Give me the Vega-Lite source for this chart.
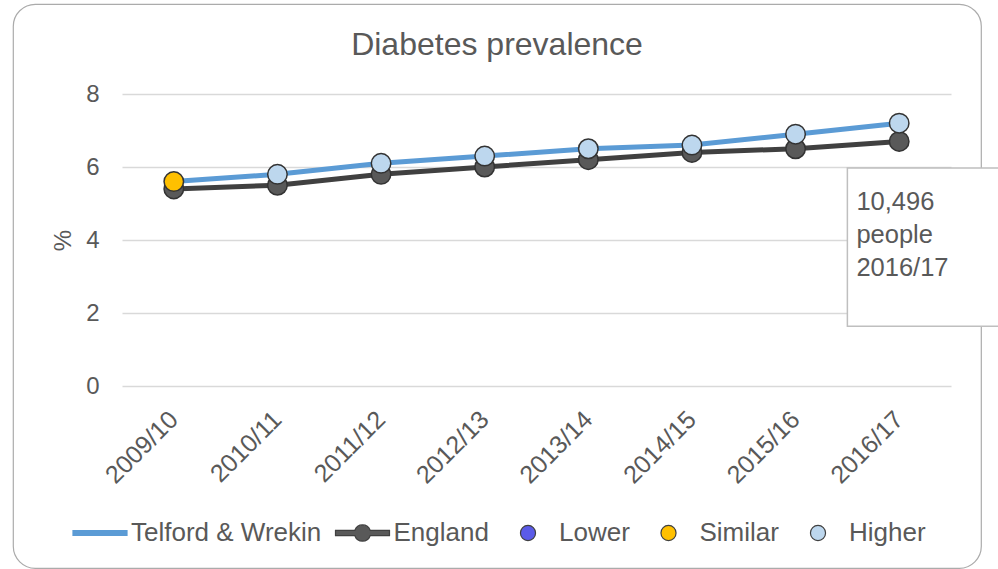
{
  "$schema": "https://vega.github.io/schema/vega-lite/v6.json",
  "width": 968,
  "height": 564,
  "autosize": {"type": "none"},
  "padding": {"left": 13, "top": 4, "right": 17, "bottom": 1},
  "background": "white",
  "config": {
    "font": "Liberation Sans",
    "view": {"stroke": "#ABABAB", "strokeWidth": 1.2, "cornerRadius": 22, "fill": "white"},
    "legend": {
      "orient": "none",
      "legendX": 59,
      "legendY": 501,
      "direction": "horizontal",
      "columns": 5,
      "title": null,
      "padding": 0,
      "labelFontSize": 26,
      "labelColor": "#595959",
      "labelOffset": 3,
      "labelLimit": 0,
      "columnPadding": 10.5,
      "symbolSize": 2916,
      "symbolOpacity": 1,
      "symbolStrokeWidth": 1.2
    }
  },
  "title": {
    "text": "Diabetes prevalence",
    "fontSize": 32,
    "fontWeight": "normal",
    "color": "#595959",
    "anchor": "middle",
    "frame": "group",
    "baseline": "middle",
    "offset": -73
  },
  "datasets": {
    "prev": [
      {"year": "2009/10", "series": "Telford & Wrekin", "value": 5.6, "cat": "Similar"},
      {"year": "2010/11", "series": "Telford & Wrekin", "value": 5.8, "cat": "Higher"},
      {"year": "2011/12", "series": "Telford & Wrekin", "value": 6.1, "cat": "Higher"},
      {"year": "2012/13", "series": "Telford & Wrekin", "value": 6.3, "cat": "Higher"},
      {"year": "2013/14", "series": "Telford & Wrekin", "value": 6.5, "cat": "Higher"},
      {"year": "2014/15", "series": "Telford & Wrekin", "value": 6.6, "cat": "Higher"},
      {"year": "2015/16", "series": "Telford & Wrekin", "value": 6.9, "cat": "Higher"},
      {"year": "2016/17", "series": "Telford & Wrekin", "value": 7.2, "cat": "Higher"},
      {"year": "2009/10", "series": "England", "value": 5.4, "cat": "England"},
      {"year": "2010/11", "series": "England", "value": 5.5, "cat": "England"},
      {"year": "2011/12", "series": "England", "value": 5.8, "cat": "England"},
      {"year": "2012/13", "series": "England", "value": 6.0, "cat": "England"},
      {"year": "2013/14", "series": "England", "value": 6.2, "cat": "England"},
      {"year": "2014/15", "series": "England", "value": 6.4, "cat": "England"},
      {"year": "2015/16", "series": "England", "value": 6.5, "cat": "England"},
      {"year": "2016/17", "series": "England", "value": 6.7, "cat": "England"}
    ],
    "note": [
      {"year": "2016/17", "top": 5.97, "bottom": 1.64, "label": ["10,496", "people", "2016/17"]}
    ]
  },
  "layer": [
    {
      "data": {"name": "note"},
      "mark": {"type": "rect", "fill": "white", "stroke": "#BFBFBF", "strokeWidth": 1.5, "x2Offset": 60},
      "encoding": {
        "x": {
          "field": "year", "type": "nominal", "bandPosition": 0,
          "scale": {
            "type": "band",
            "domain": ["2009/10", "2010/11", "2011/12", "2012/13", "2013/14", "2014/15", "2015/16", "2016/17"],
            "range": [109, 938],
            "paddingInner": 0,
            "paddingOuter": 0
          },
          "axis": {
            "orient": "bottom",
            "offset": -182,
            "title": null,
            "domain": false,
            "ticks": false,
            "tickSize": 0,
            "grid": false,
            "labelAngle": -45,
            "labelAlign": "right",
            "labelBaseline": "middle",
            "labelPadding": 29,
            "labelFontSize": 25,
            "labelColor": "#595959",
            "labelOverlap": false,
            "labelFlush": false,
            "labelBound": false
          }
        },
        "x2": {"field": "year", "bandPosition": 1},
        "y": {
          "field": "top", "type": "quantitative",
          "scale": {"domain": [0, 8], "range": [382, 90], "nice": false, "zero": false},
          "axis": {
            "orient": "left",
            "offset": -109,
            "title": "%",
            "titleFontSize": 24,
            "titleFontWeight": "normal",
            "titleColor": "#595959",
            "titlePadding": 10,
            "values": [0, 2, 4, 6, 8],
            "format": "d",
            "domain": false,
            "ticks": false,
            "tickSize": 0,
            "grid": true,
            "gridColor": "#D9D9D9",
            "gridWidth": 1.5,
            "labelPadding": 23,
            "labelFontSize": 24,
            "labelColor": "#595959"
          }
        },
        "y2": {"field": "bottom"}
      }
    },
    {
      "data": {"name": "note"},
      "mark": {"type": "text", "align": "left", "baseline": "top", "dx": 9, "dy": 22, "fontSize": 25.5, "lineHeight": 33, "color": "#595959"},
      "encoding": {
        "x": {"field": "year", "type": "nominal", "bandPosition": 0},
        "y": {"field": "top", "type": "quantitative"},
        "text": {"field": "label"}
      }
    },
    {
      "data": {"values": []},
      "mark": {"type": "point", "filled": true},
      "encoding": {
        "x": {"field": "year", "type": "nominal"},
        "y": {"field": "value", "type": "quantitative"},
        "fill": {
          "field": "cat", "type": "nominal",
          "scale": {
            "domain": ["Telford & Wrekin", "England", "Lower", "Similar", "Higher"],
            "range": ["#5B9BD5", "#595959", "#5B5BE8", "#FFC000", "#BDD7EE"]
          }
        },
        "shape": {
          "field": "cat", "type": "nominal",
          "scale": {
            "domain": ["Telford & Wrekin", "England", "Lower", "Similar", "Higher"],
            "range": [
              "M-1,-0.09L1,-0.09L1,0.09L-1,0.09Z",
              "M-1,-0.1L-0.283,-0.1A0.3,0.3,0,0,1,0.283,-0.1L1,-0.1L1,0.1L0.283,0.1A0.3,0.3,0,0,1,-0.283,0.1L-1,0.1Z",
              "M-0.28,0A0.28,0.28,0,1,1,0.28,0A0.28,0.28,0,1,1,-0.28,0Z",
              "M-0.28,0A0.28,0.28,0,1,1,0.28,0A0.28,0.28,0,1,1,-0.28,0Z",
              "M-0.28,0A0.28,0.28,0,1,1,0.28,0A0.28,0.28,0,1,1,-0.28,0Z"
            ]
          }
        },
        "stroke": {
          "field": "cat", "type": "nominal",
          "scale": {
            "domain": ["Telford & Wrekin", "England", "Lower", "Similar", "Higher"],
            "range": ["#5B9BD5", "#404040", "#404040", "#404040", "#404040"]
          }
        }
      }
    },
    {
      "data": {"name": "prev"},
      "transform": [{"filter": "datum.series === 'England'"}],
      "mark": {"type": "line", "stroke": "#404040", "strokeWidth": 5},
      "encoding": {
        "x": {"field": "year", "type": "nominal"},
        "y": {"field": "value", "type": "quantitative"}
      }
    },
    {
      "data": {"name": "prev"},
      "transform": [{"filter": "datum.series === 'England'"}],
      "mark": {"type": "point", "filled": true, "size": 380, "stroke": "#333333", "strokeWidth": 1.5, "opacity": 1},
      "encoding": {
        "x": {"field": "year", "type": "nominal"},
        "y": {"field": "value", "type": "quantitative"},
        "fill": {"field": "cat", "type": "nominal"}
      }
    },
    {
      "data": {"name": "prev"},
      "transform": [{"filter": "datum.series === 'Telford & Wrekin'"}],
      "mark": {"type": "line", "stroke": "#5B9BD5", "strokeWidth": 5},
      "encoding": {
        "x": {"field": "year", "type": "nominal"},
        "y": {"field": "value", "type": "quantitative"}
      }
    },
    {
      "data": {"name": "prev"},
      "transform": [{"filter": "datum.series === 'Telford & Wrekin'"}],
      "mark": {"type": "point", "filled": true, "size": 380, "stroke": "#333333", "strokeWidth": 1.5, "opacity": 1},
      "encoding": {
        "x": {"field": "year", "type": "nominal"},
        "y": {"field": "value", "type": "quantitative"},
        "fill": {"field": "cat", "type": "nominal"}
      }
    }
  ]
}
